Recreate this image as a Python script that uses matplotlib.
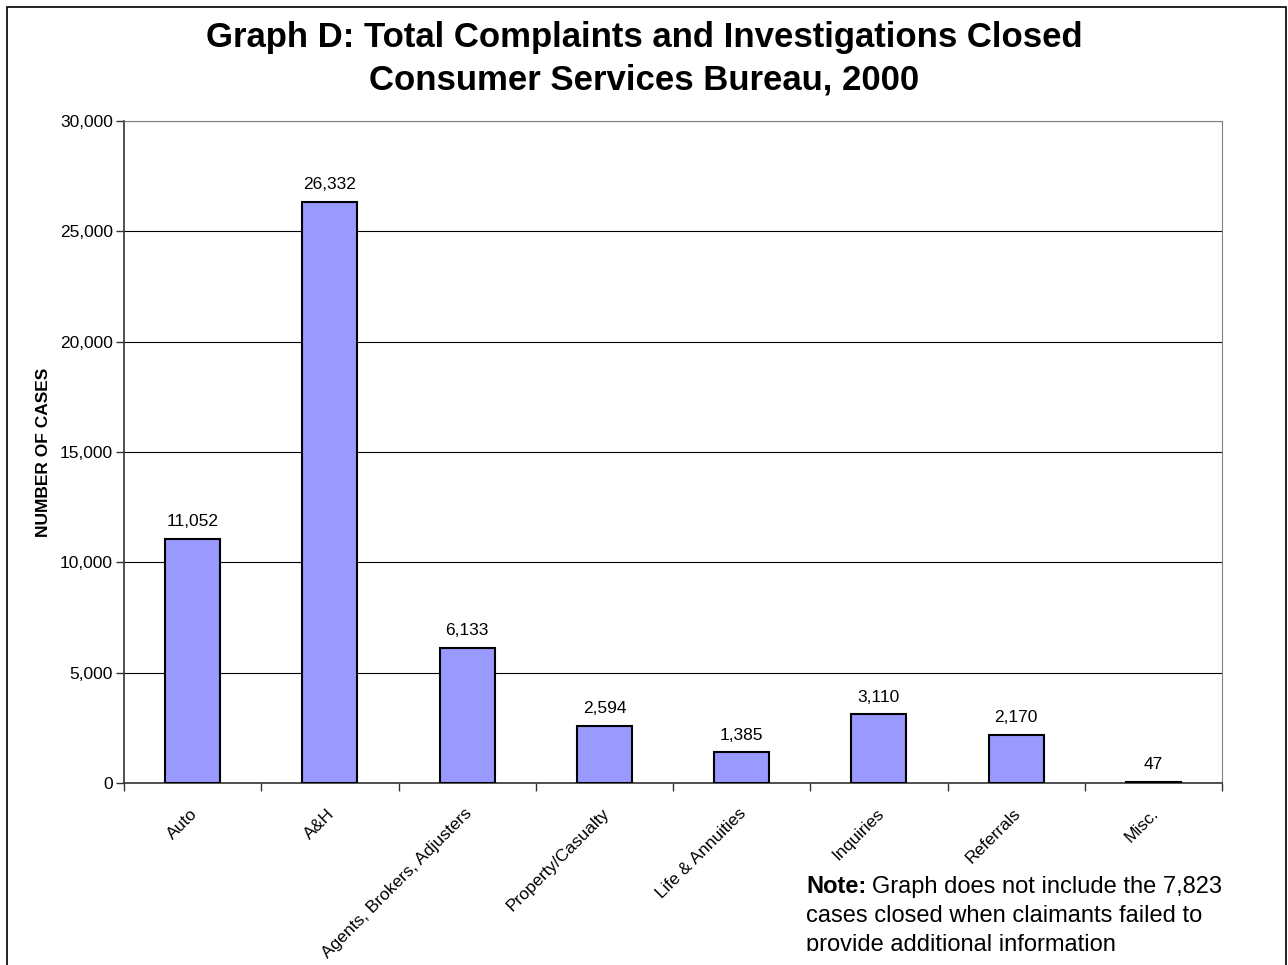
import matplotlib
matplotlib.use("Agg")
import matplotlib.pyplot as plt
from matplotlib.patches import Rectangle
from matplotlib.transforms import Bbox
from matplotlib.ticker import FuncFormatter, MultipleLocator

categories = ["Auto", "A&H", "Agents, Brokers, Adjusters", "Property/Casualty",
              "Life & Annuities", "Inquiries", "Referrals", "Misc."]
cases = [11052, 26332, 6133, 2594, 1385, 3110, 2170, 47]

plt.rcParams["font.family"] = ["Liberation Sans", "DejaVu Sans"]

W, H = 1288, 965
fig = plt.figure(figsize=(W / 100, H / 100), dpi=100)
ax = fig.add_axes([124 / W, 1 - 783 / H, (1222 - 124) / W, (783 - 121) / H])

x = list(range(len(categories)))
ax.bar(x, cases, width=0.4, color="#9999FF", edgecolor="black", linewidth=1.5, zorder=3)
for xi, v in zip(x, cases):
    ax.annotate(f"{v:,}", (xi, v), xytext=(0, 7), textcoords="offset points",
                ha="center", va="bottom", fontsize=12.5)

ax.set_xlim(-0.5, len(categories) - 0.5)
ax.set_ylim(0, 30000)
ax.yaxis.set_major_locator(MultipleLocator(5000))
ax.yaxis.set_major_formatter(FuncFormatter(lambda v, p: f"{v:,.0f}"))
ax.grid(axis="y", color="black", linewidth=0.8, zorder=0)

# category ticks sit between bars; labels are drawn at bar centres
ax.set_xticks([i - 0.5 for i in range(len(categories) + 1)])
ax.set_xticklabels([])
for xi, name in zip(x, categories):
    ax.annotate(name, (xi, 0), xytext=(-3, -23), textcoords="offset pixels",
                rotation=45, ha="right", va="top", rotation_mode="anchor",
                fontsize=12.5, annotation_clip=False)
ax.tick_params(axis="x", length=6, width=1, direction="out", color="#333333")
ax.tick_params(axis="y", length=6, width=1, direction="out", labelsize=12.5,
               color="#333333", pad=2)

for side in ("top", "right"):
    ax.spines[side].set_color("#808080")
for side in ("left", "bottom"):
    ax.spines[side].set_color("#333333")
    ax.spines[side].set_linewidth(1.2)

ax.set_ylabel("NUMBER OF CASES", fontsize=12.5, fontweight="bold", labelpad=6)

fig.text(0.5, 1 - 38 / H, "Graph D: Total Complaints and Investigations Closed",
         ha="center", va="center", fontsize=25, fontweight="bold")
fig.text(0.5, 1 - 80 / H, "Consumer Services Bureau, 2000",
         ha="center", va="center", fontsize=25, fontweight="bold")

# note under the chart: bold lead-in, then the rest of the sentence
nx, ny, nsize, nstep = 806 / W, 1 - 893 / H, 17, 29 / H
lead = fig.text(nx, ny, "Note:", ha="left", va="baseline", fontsize=nsize, fontweight="bold")
renderer = fig.canvas.get_renderer()
lead_end = lead.get_window_extent(renderer).x1 / W
fig.text(lead_end + 6 / W, ny, "Graph does not include the 7,823",
         ha="left", va="baseline", fontsize=nsize)
fig.text(nx, ny - nstep, "cases closed when claimants failed to",
         ha="left", va="baseline", fontsize=nsize)
last = fig.text(nx, ny - 2 * nstep, "provide additional information",
                ha="left", va="baseline", fontsize=nsize)
# the original text box cuts off the bottom of the last line
last.set_clip_box(Bbox.from_extents(0, H - 951, W, H))
last.set_clip_on(True)

fig.patches.append(Rectangle((7 / W, -0.05), (1286 - 7) / W, 1.05 - 7 / H,
                             transform=fig.transFigure, fill=False,
                             edgecolor="black", linewidth=1.2))

fig.savefig("out.png", dpi=100)
